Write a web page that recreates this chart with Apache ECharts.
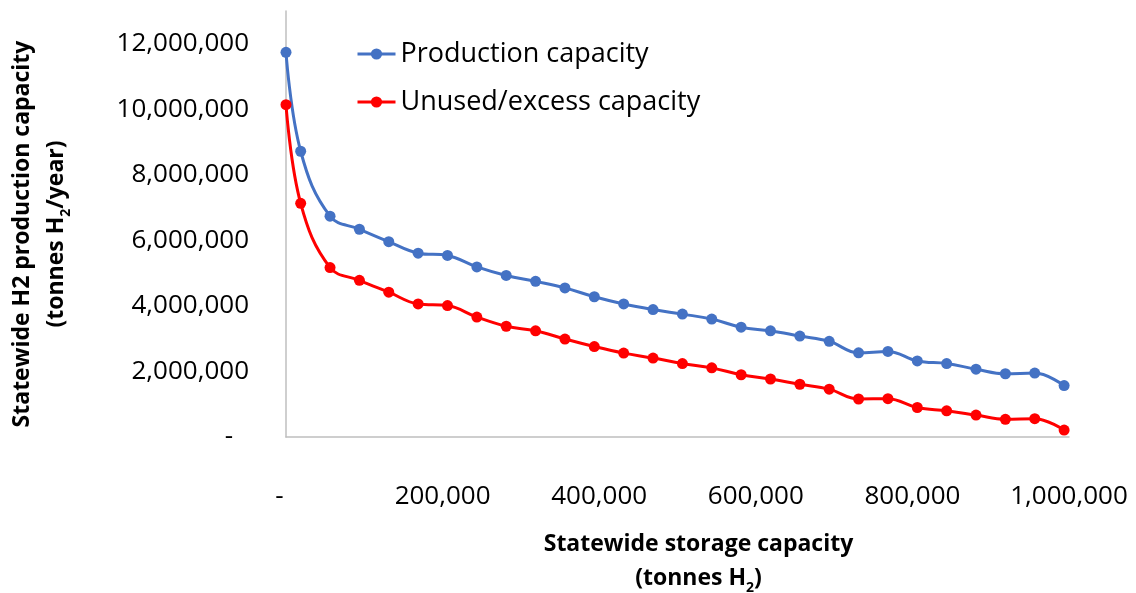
<!DOCTYPE html>
<html>
<head>
<meta charset="utf-8">
<script src="https://cdn.jsdelivr.net/npm/echarts@6/dist/echarts.min.js"></script>
<style>
  html, body { margin: 0; padding: 0; background: #ffffff; }
  #chart { width: 1136px; height: 593px; }
</style>
</head>
<body>
<div id="chart"></div>
<script>
// Statewide storage capacity (tonnes H2) for each scenario
const storageCapacity = [0, 18750, 56250, 93750, 131250, 168750, 206250, 243750, 281250, 318750,
  356250, 393750, 431250, 468750, 506250, 543750, 581250, 618750, 656250, 693750,
  731250, 768750, 806250, 843750, 881250, 918750, 956250, 993750];

// Statewide H2 production capacity (tonnes H2/year)
const productionCapacity = [11740000, 8720000, 6740000, 6340000, 5960000, 5610000, 5540000, 5190000, 4930000, 4750000,
  4550000, 4280000, 4060000, 3890000, 3750000, 3600000, 3350000, 3240000, 3080000, 2920000,
  2570000, 2610000, 2320000, 2240000, 2070000, 1930000, 1950000, 1570000];

// Unused / excess production capacity (tonnes H2/year)
const unusedCapacity = [10140000, 7130000, 5170000, 4780000, 4420000, 4060000, 4010000, 3660000, 3380000, 3240000,
  2990000, 2760000, 2560000, 2410000, 2240000, 2110000, 1900000, 1770000, 1610000, 1460000,
  1160000, 1170000, 900000, 800000, 670000, 540000, 560000, 210000];

const seriesNames = ['Production capacity', 'Unused/excess capacity'];
const seriesColors = ['#4472C4', '#FF0000'];

const FONT = '"Open Sans", "Noto Sans", sans-serif';

function pairs(xs, ys) {
  return xs.map((x, i) => [x, ys[i]]);
}

function fmtThousands(v) {
  return Math.round(v).toLocaleString('en-US');
}

const titleRich = {
  b: { fontFamily: FONT, fontWeight: 'bold', fontSize: 23, color: '#000', lineHeight: 34 },
  s: { fontFamily: FONT, fontWeight: 'bold', fontSize: 14, color: '#000', lineHeight: 18, verticalAlign: 'bottom' }
};

const chart = echarts.init(document.getElementById('chart'), null, { renderer: 'canvas' });

chart.setOption({
  backgroundColor: '#ffffff',
  animation: false,
  grid: {
    left: 286,
    right: 67,
    top: 11,
    bottom: 156,
    containLabel: false,
    outerBoundsMode: 'none'
  },
  legend: {
    orient: 'vertical',
    left: 351,
    top: 35,
    itemWidth: 38,
    itemHeight: 14,
    itemGap: 20,
    data: seriesNames,
    lineStyle: { width: 3 },
    textStyle: { fontFamily: FONT, fontSize: 27, color: '#000', lineHeight: 28 }
  },
  xAxis: {
    type: 'value',
    min: 0,
    max: 1000000,
    interval: 200000,
    name: '{b|Statewide storage capacity}\n{b|(tonnes H}{s|2}{b|)}',
    nameLocation: 'middle',
    nameGap: 90,
    nameTextStyle: { rich: titleRich, padding: [0, 0, 0, 42], align: 'center' },
    axisLine: { show: true, onZero: false, lineStyle: { color: '#BFBFBF', width: 1.5 } },
    axisTick: { show: false },
    splitLine: { show: false },
    axisLabel: {
      margin: 47,
      fontFamily: FONT,
      fontSize: 26,
      color: '#000',
      formatter: v => v === 0 ? '{dash|-}' : fmtThousands(v),
      rich: { dash: { fontFamily: FONT, fontSize: 26, color: '#000', padding: [0, 13, 0, 0] } }
    }
  },
  yAxis: {
    type: 'value',
    min: 0,
    max: 13000000,
    interval: 2000000,
    name: '{b|Statewide H2 production capacity}\n{b|(tonnes H}{s|2}{b|/year)}',
    nameLocation: 'middle',
    nameRotate: 90,
    nameGap: 213,
    nameTextStyle: { rich: titleRich, padding: [0, 20, 0, 0], align: 'center' },
    axisLine: { show: true, onZero: false, lineStyle: { color: '#BFBFBF', width: 1.5 } },
    axisTick: { show: false },
    splitLine: { show: false },
    axisLabel: {
      margin: 37,
      fontFamily: FONT,
      fontSize: 26,
      color: '#000',
      formatter: v => v === 0 ? '{dash|-}' : (v > 12000000 ? '' : fmtThousands(v)),
      rich: { dash: { fontFamily: FONT, fontSize: 26, color: '#000', padding: [0, 16, 0, 0] } }
    }
  },
  series: [
    {
      name: seriesNames[0],
      type: 'line',
      data: pairs(storageCapacity, productionCapacity),
      smooth: 0.4,
      symbol: 'circle',
      symbolSize: 11,
      color: seriesColors[0],
      lineStyle: { width: 3, color: seriesColors[0] },
      itemStyle: { color: seriesColors[0] }
    },
    {
      name: seriesNames[1],
      type: 'line',
      data: pairs(storageCapacity, unusedCapacity),
      smooth: 0.4,
      symbol: 'circle',
      symbolSize: 11,
      color: seriesColors[1],
      lineStyle: { width: 3, color: seriesColors[1] },
      itemStyle: { color: seriesColors[1] }
    }
  ]
});
</script>
</body>
</html>
